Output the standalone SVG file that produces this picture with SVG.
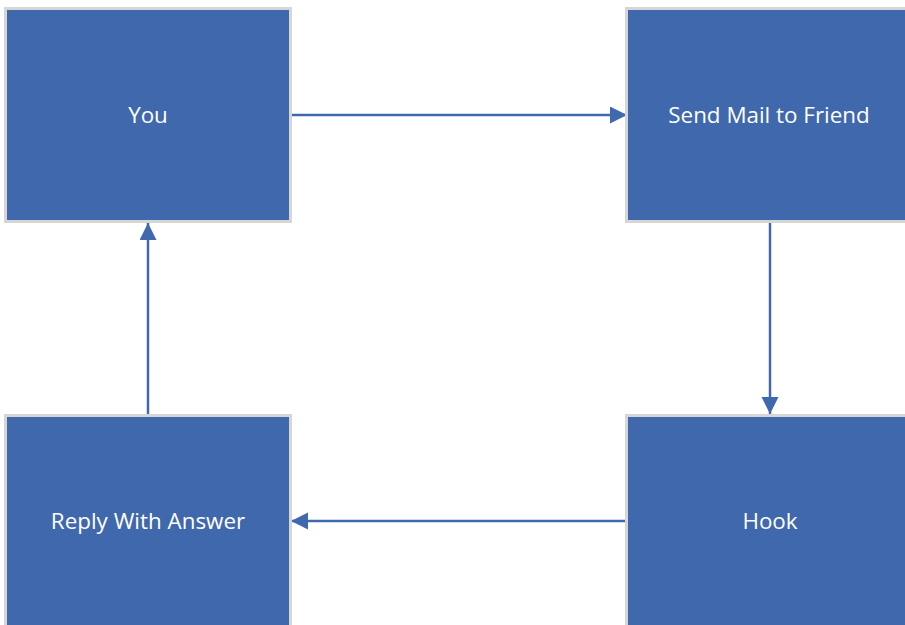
<svg xmlns="http://www.w3.org/2000/svg" width="905" height="625" viewBox="0 0 905 625">
  <style>
    .box { fill: #4068ad; stroke: #d6d6d6; stroke-width: 3; }
    .label { fill: #ffffff; font-family: "Open Sans", "Noto Sans", "Liberation Sans", sans-serif; font-size: 22.4px; text-anchor: middle; dominant-baseline: central; }
    .edge { stroke: #4068ad; stroke-width: 2.5; fill: none; marker-end: url(#head); }
  </style>
  <defs>
    <marker id="head" markerUnits="userSpaceOnUse" markerWidth="18" markerHeight="18" refX="17" refY="8.5" orient="auto">
      <path d="M0,0 L17,8.5 L0,17 Z" fill="#4068ad"/>
    </marker>
  </defs>
  <rect width="905" height="625" fill="#ffffff"/>

  <g id="connectors">
    <line class="edge" x1="291" y1="115" x2="627" y2="115"/>
    <line class="edge" x1="770" y1="222" x2="770" y2="414"/>
    <line class="edge" x1="626" y1="521" x2="291" y2="521"/>
    <line class="edge" x1="148" y1="415" x2="148" y2="223"/>
  </g>

  <g id="you">
    <rect class="box" x="5.5" y="8.5" width="285" height="213"/>
    <text class="label" x="148" y="114">You</text>
  </g>
  <g id="send-mail">
    <rect class="box" x="626.5" y="8.5" width="285" height="213"/>
    <text class="label" x="769" y="114">Send Mail to Friend</text>
  </g>
  <g id="hook">
    <rect class="box" x="626.5" y="415.5" width="285" height="213"/>
    <text class="label" x="770" y="520">Hook</text>
  </g>
  <g id="reply">
    <rect class="box" x="5.5" y="415.5" width="285" height="213"/>
    <text class="label" x="148" y="520">Reply With Answer</text>
  </g>
</svg>
